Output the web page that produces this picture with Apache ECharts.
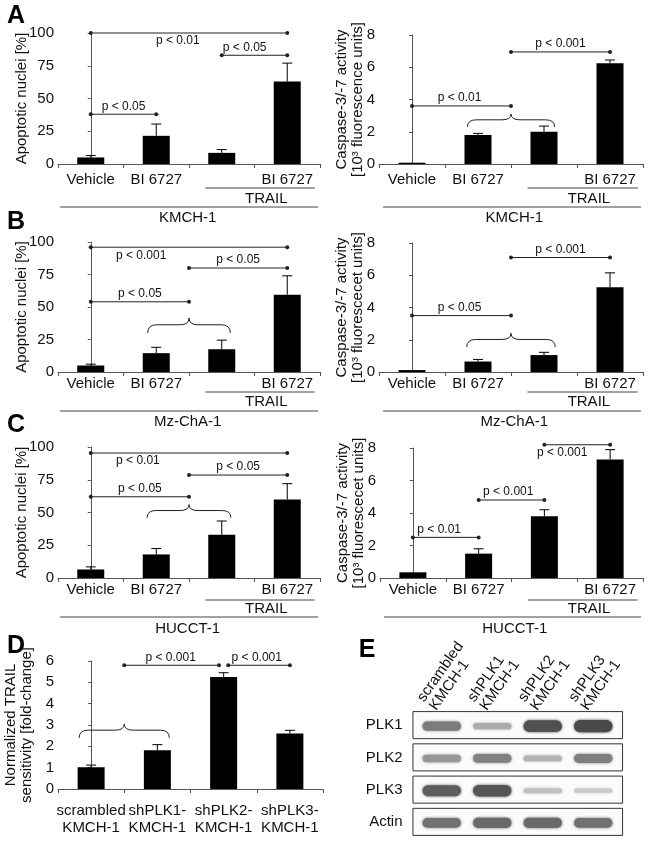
<!DOCTYPE html>
<html><head><meta charset="utf-8">
<script src="https://cdn.jsdelivr.net/npm/echarts@6/dist/echarts.min.js"></script>
<style>html,body{margin:0;padding:0;background:#fff}#c{width:649px;height:841px}</style>
</head><body><div id="c"></div>
<script>
const FONT = 'Liberation Sans, Arial, Helvetica, sans-serif';
const LINE = '#222';
const AXIS = '#555';
const TEXT = '#111';

// ---------------- DATA ----------------
const treatmentLabels = ['Vehicle', 'BI 6727', '', 'BI 6727'];
const shLabels = ['scrambled\nKMCH-1', 'shPLK1-\nKMCH-1', 'shPLK2-\nKMCH-1', 'shPLK3-\nKMCH-1'];
const cellLines = ['KMCH-1', 'Mz-ChA-1', 'HUCCT-1'];

// apoptotic nuclei [%] (mean, error)
const apoKMCH = [5, 21.5, 8.5, 63];
const apoKMCHErr = [1.5, 9, 2.5, 14];
const apoMzChA = [5, 14.5, 17.5, 59.5];
const apoMzChAErr = [1, 4.5, 7, 14.5];
const apoHUCCT = [6.5, 18, 33, 60];
const apoHUCCTErr = [2, 4.5, 10.5, 12];

// caspase-3/-7 activity [10^3 units]
const caspKMCH = [0.08, 1.8, 2.0, 6.25];
const caspKMCHErr = [0, 0.1, 0.35, 0.2];
const caspMzChA = [0.12, 0.65, 1.05, 5.25];
const caspMzChAErr = [0, 0.13, 0.17, 0.9];
const caspHUCCT = [0.35, 1.5, 3.8, 7.3];
const caspHUCCTErr = [0, 0.3, 0.4, 0.6];

// normalized TRAIL sensitivity
const foldChange = [1.02, 1.82, 5.25, 2.6];
const foldChangeErr = [0.1, 0.26, 0.2, 0.15];

// significance brackets: [from, to, y, label, labelX, side]
const sigApoKMCH = [[0, 3, 100, 'p < 0.01', 1.33, 'below'], [2, 3, 83, 'p < 0.05', 2.35, 'above'], [0, 1, 38, 'p < 0.05', 0.5, 'above']];
const sigCaspKMCH = [[0, 1.5, 3.6, 'p < 0.01', 0.72, 'above'], [1.5, 3, 6.95, 'p < 0.001', 2.25, 'above']];
const sigApoMzChA = [[0, 3, 96, 'p < 0.001', 0.77, 'below'], [1.5, 3, 80, 'p < 0.05', 2.25, 'above'], [0, 1.5, 54, 'p < 0.05', 0.75, 'above']];
const sigCaspMzChA = [[0, 1.5, 3.5, 'p < 0.05', 0.72, 'above'], [1.5, 3, 7.1, 'p < 0.001', 2.25, 'above']];
const sigApoHUCCT = [[0, 3, 95.4, 'p < 0.01', 0.72, 'below'], [1.5, 3, 78.6, 'p < 0.05', 2.25, 'above'], [0, 1.5, 62, 'p < 0.05', 0.75, 'above']];
const sigCaspHUCCT = [[0, 1, 2.5, 'p < 0.01', 0.4, 'above'], [1, 2, 4.8, 'p < 0.001', 1.45, 'above'], [2, 3, 8.2, 'p < 0.001', 2.27, 'below']];
const sigFold = [[0.5, 1.93, 5.8, 'p < 0.001', 1.2, 'above'], [2.07, 3, 5.8, 'p < 0.001', 2.5, 'above']];

// curly braces: [from, to, yBottom, yTip]
const braceCaspKMCH = [[0.84, 2.16, 2.3, 3.1]];
const braceApoMzChA = [[0.87, 2.13, 30, 41.5]];
const braceCaspMzChA = [[0.83, 2.17, 1.55, 2.4]];
const braceApoHUCCT = [[0.86, 2.14, 46, 56]];
const braceFold = [[-0.18, 1.18, 2.4, 3.05]];

// group labels under x axis: [from, to, labelX, label]
const trailGroup = [1.75, 3.42, 2.68, 'TRAIL'];
const cellGroupLeft = [-0.47, 3.47, 1.48];
const cellGroupRight = [-0.44, 3.47, 1.55];

// western blot (E)
const blotLanes = ['scrambled\nKMCH-1', 'shPLK1\nKMCH-1', 'shPLK2\nKMCH-1', 'shPLK3\nKMCH-1'];
const blotProteins = ['PLK1', 'PLK2', 'PLK3', 'Actin'];
const bandPLK1 = [0.62, 0.32, 0.88, 0.92];
const bandPLK2 = [0.45, 0.58, 0.28, 0.6];
const bandPLK3 = [0.8, 0.85, 0.2, 0.14];
const bandActin = [0.68, 0.72, 0.72, 0.68];

// ---------------- LAYOUT ----------------
const rowOffsets = {
  A: {label: 7, trailLine: 24, trailText: 35, cellLine: 43, cellText: 54},
  B: {label: 3, trailLine: 20, trailText: 30, cellLine: 39, cellText: 50},
  C: {label: 3, trailLine: 22, trailText: 31, cellLine: 39, cellText: 51}
};
const apoName = 'Apoptotic nuclei [%]';
const caspName1 = 'Caspase-3/-7 activity\n[10\u00B3 fluorescence units]';
const caspName2 = 'Caspase-3/-7 activity\n[10\u00B3 fluorescecet units]';

const panels = [
  {grid: {left: 58, top: 33, width: 262, height: 131}, values: apoKMCH, errors: apoKMCHErr, cats: treatmentLabels, yMax: 100, yInt: 25, yName: apoName, nameGap: 28, sig: sigApoKMCH, braces: [], row: 'A', cell: cellLines[0], cellGroup: cellGroupLeft},
  {grid: {left: 379, top: 35, width: 264, height: 129}, values: caspKMCH, errors: caspKMCHErr, cats: treatmentLabels, yMax: 8, yInt: 2, yName: caspName1, nameGap: 13, sig: sigCaspKMCH, braces: braceCaspKMCH, row: 'A', cell: cellLines[0], cellGroup: cellGroupRight},
  {grid: {left: 58, top: 242, width: 262, height: 130}, values: apoMzChA, errors: apoMzChAErr, cats: treatmentLabels, yMax: 100, yInt: 25, yName: apoName, nameGap: 28, sig: sigApoMzChA, braces: braceApoMzChA, row: 'B', cell: cellLines[1], cellGroup: cellGroupLeft},
  {grid: {left: 379, top: 243, width: 264, height: 129}, values: caspMzChA, errors: caspMzChAErr, cats: treatmentLabels, yMax: 8, yInt: 2, yName: caspName2, nameGap: 13, sig: sigCaspMzChA, braces: braceCaspMzChA, row: 'B', cell: cellLines[1], cellGroup: cellGroupRight},
  {grid: {left: 58, top: 447, width: 262, height: 131}, values: apoHUCCT, errors: apoHUCCTErr, cats: treatmentLabels, yMax: 100, yInt: 25, yName: apoName, nameGap: 28, sig: sigApoHUCCT, braces: braceApoHUCCT, row: 'C', cell: cellLines[2], cellGroup: cellGroupLeft},
  {grid: {left: 380, top: 448, width: 263, height: 130}, values: caspHUCCT, errors: caspHUCCTErr, cats: treatmentLabels, yMax: 8, yInt: 2, yName: caspName2, nameGap: 13, sig: sigCaspHUCCT, braces: [], row: 'C', cell: cellLines[2], cellGroup: cellGroupRight},
  {grid: {left: 58, top: 661, width: 265, height: 128}, values: foldChange, errors: foldChangeErr, cats: shLabels, yMax: 6, yInt: 1, yName: 'Normalized TRAIL\nsensitivity [fold-change]', nameGap: 23, sig: sigFold, braces: braceFold, row: 'D', cell: null, labelMargin: 13}
];

const grids = [], xAxes = [], yAxes = [], series = [];

function txt(text, x, y, size, align, vAlign, extra) {
  return Object.assign({type: 'text', x: x, y: y, style: {text: text, fill: TEXT, fontSize: size, fontFamily: FONT, align: align, verticalAlign: vAlign}}, extra || {});
}

panels.forEach((p, i) => {
  grids.push(Object.assign({containLabel: false}, p.grid));
  const off = rowOffsets[p.row];
  xAxes.push({
    gridIndex: i, type: 'category', data: p.cats,
    axisLine: {lineStyle: {color: AXIS, width: 1}},
    axisTick: {show: true, length: 4, lineStyle: {color: AXIS}},
    axisLabel: {interval: 0, fontSize: 15, color: TEXT, fontFamily: FONT, margin: off ? off.label : p.labelMargin, lineHeight: 17}
  });
  xAxes.push({gridIndex: i, type: 'value', min: -0.5, max: 3.5, show: false});
  yAxes.push({
    gridIndex: i, type: 'value', min: 0, max: p.yMax, interval: p.yInt,
    axisLine: {show: true, lineStyle: {color: AXIS, width: 1}},
    axisTick: {show: true, length: 3, lineStyle: {color: AXIS}},
    splitLine: {show: false},
    axisLabel: {fontSize: 15, color: TEXT, fontFamily: FONT, margin: 4},
    name: p.yName, nameLocation: 'middle', nameGap: p.nameGap, nameMoveOverlap: false,
    nameTextStyle: {fontSize: 15, color: TEXT, fontFamily: FONT, lineHeight: 16}
  });
  series.push({
    type: 'bar', xAxisIndex: 2 * i, yAxisIndex: i, data: p.values, barWidth: 27,
    itemStyle: {color: '#000'}, silent: true
  });
  series.push({
    type: 'custom', xAxisIndex: 2 * i, yAxisIndex: i,
    data: p.values.map((v, k) => [k, v, v + p.errors[k]]),
    encode: {x: 0, y: [1, 2]},
    renderItem: (params, api) => {
      const v = api.value(1), u = api.value(2);
      if (!(u > v)) return null;
      const a = api.coord([api.value(0), v]), b = api.coord([api.value(0), u]);
      return {type: 'group', children: [
        {type: 'line', shape: {x1: a[0], y1: a[1], x2: b[0], y2: b[1]}, style: {stroke: '#000', lineWidth: 1}},
        {type: 'line', shape: {x1: b[0] - 5, y1: b[1], x2: b[0] + 5, y2: b[1]}, style: {stroke: '#000', lineWidth: 1}}
      ]};
    }
  });
  // annotations
  const items = [];
  p.sig.forEach(s => items.push({kind: 'sig', from: s[0], to: s[1], y: s[2], label: s[3], lx: s[4], side: s[5]}));
  p.braces.forEach(b => items.push({kind: 'brace', from: b[0], to: b[1], yb: b[2], yt: b[3]}));
  if (p.cell) {
    items.push({kind: 'group', from: trailGroup[0], to: trailGroup[1], lx: trailGroup[2], label: trailGroup[3], lineOff: off.trailLine, textOff: off.trailText});
    items.push({kind: 'group', from: p.cellGroup[0], to: p.cellGroup[1], lx: p.cellGroup[2], label: p.cell, lineOff: off.cellLine, textOff: off.cellText});
  }
  series.push({
    type: 'custom', xAxisIndex: 2 * i + 1, yAxisIndex: i, clip: false, silent: true,
    data: items.map(() => [0, 0]),
    renderItem: (params, api) => {
      const it = items[params.dataIndex];
      if (it.kind === 'sig') {
        const a = api.coord([it.from, it.y]), b = api.coord([it.to, it.y]), t = api.coord([it.lx, it.y]);
        const below = it.side === 'below';
        return {type: 'group', children: [
          {type: 'line', shape: {x1: a[0], y1: a[1], x2: b[0], y2: b[1]}, style: {stroke: LINE, lineWidth: 1}},
          {type: 'circle', shape: {cx: a[0], cy: a[1], r: 2}, style: {fill: LINE}},
          {type: 'circle', shape: {cx: b[0], cy: b[1], r: 2}, style: {fill: LINE}},
          txt(it.label, t[0], below ? t[1] + 2 : t[1] - 2, 12, 'center', below ? 'top' : 'bottom')
        ]};
      }
      if (it.kind === 'brace') {
        const l = api.coord([it.from, it.yb]), r = api.coord([it.to, it.yb]), tip = api.coord([(it.from + it.to) / 2, it.yt]);
        const yB = l[1], yT = tip[1], yM = yB - (yB - yT) * 0.55, xc = tip[0], rr = 9;
        const st = {stroke: LINE, lineWidth: 1, fill: 'none'};
        return {type: 'group', children: [
          {type: 'bezierCurve', shape: {x1: l[0], y1: yB, cpx1: l[0], cpy1: yM, x2: l[0] + rr, y2: yM}, style: st},
          {type: 'line', shape: {x1: l[0] + rr, y1: yM, x2: xc - rr, y2: yM}, style: st},
          {type: 'bezierCurve', shape: {x1: xc - rr, y1: yM, cpx1: xc, cpy1: yM, x2: xc, y2: yT}, style: st},
          {type: 'bezierCurve', shape: {x1: xc, y1: yT, cpx1: xc, cpy1: yM, x2: xc + rr, y2: yM}, style: st},
          {type: 'line', shape: {x1: xc + rr, y1: yM, x2: r[0] - rr, y2: yM}, style: st},
          {type: 'bezierCurve', shape: {x1: r[0] - rr, y1: yM, cpx1: r[0], cpy1: yM, x2: r[0], y2: yB}, style: st}
        ]};
      }
      if (it.kind === 'group') {
        const a = api.coord([it.from, 0]), b = api.coord([it.to, 0]), t = api.coord([it.lx, 0]);
        const y = a[1] + it.lineOff;
        return {type: 'group', children: [
          {type: 'line', shape: {x1: a[0], y1: y, x2: b[0], y2: y}, style: {stroke: '#444', lineWidth: 1}},
          txt(it.label, t[0], a[1] + it.textOff, 15, 'center', 'middle')
        ]};
      }
      return null;
    }
  });
});

// ---------------- BLOT (E) ----------------
const blotGrid = grids.length;
grids.push({left: 416.5, top: 709, width: 202, height: 129, containLabel: false});
xAxes.push({gridIndex: blotGrid, type: 'value', min: -0.5, max: 3.5, show: false});
yAxes.push({
  gridIndex: blotGrid, type: 'category', data: blotProteins, inverse: true,
  axisLine: {show: false}, axisTick: {show: false}, splitLine: {show: false},
  axisLabel: {fontSize: 15, color: TEXT, fontFamily: FONT, margin: 14}
});
const bandRows = [bandPLK1, bandPLK2, bandPLK3, bandActin];
const blotItems = [];
blotProteins.forEach((_, r) => blotItems.push({kind: 'frame', row: r}));
bandRows.forEach((row, r) => row.forEach((v, lane) => blotItems.push({kind: 'band', row: r, lane: lane, v: v})));
blotLanes.forEach((name, lane) => blotItems.push({kind: 'lane', lane: lane, label: name}));
series.push({
  type: 'custom', xAxisIndex: xAxes.length - 1, yAxisIndex: yAxes.length - 1, clip: false, silent: true,
  data: blotItems.map(() => [0, 0]),
  renderItem: (params, api) => {
    const it = blotItems[params.dataIndex];
    const band = api.size([0, 1])[1];
    if (it.kind === 'frame') {
      const a = api.coord([-0.57, it.row]), b = api.coord([3.58, it.row]);
      const h = band * 0.84;
      return {type: 'rect', shape: {x: a[0], y: a[1] - h / 2, width: b[0] - a[0], height: h},
        style: {fill: '#fbfbfb', stroke: '#333', lineWidth: 1}};
    }
    if (it.kind === 'band') {
      const c = api.coord([it.lane, it.row]);
      const w = api.size([0.76, 0])[0];
      const h = 3 + 10 * it.v;
      const g = Math.round(225 - 165 * it.v);
      const col = 'rgb(' + g + ',' + g + ',' + g + ')';
      return {type: 'rect', shape: {x: c[0] - w / 2, y: c[1] - h / 2 + 1, width: w, height: h, r: h / 2},
        style: {fill: col, shadowBlur: 3, shadowColor: col}};
    }
    if (it.kind === 'lane') {
      const c = api.coord([it.lane, 0]);
      const top = c[1] - band * 0.42;
      return txt(it.label, c[0] - 15, top - 7, 15, 'left', 'middle', {rotation: 55 * Math.PI / 180});
    }
    return null;
  }
});

const letters = [['A', 16, 16], ['B', 16, 222], ['C', 16, 425], ['D', 16, 646], ['E', 367, 650]];

const chart = echarts.init(document.getElementById('c'), null, {renderer: 'canvas'});
chart.setOption({
  animation: false,
  backgroundColor: '#fff',
  grid: grids, xAxis: xAxes, yAxis: yAxes, series: series,
  graphic: letters.map(l => ({type: 'text', x: l[1], y: l[2], style: {text: l[0], fill: '#000', fontSize: 25, fontWeight: 'bold', fontFamily: FONT, align: 'center', verticalAlign: 'middle'}}))
});
</script></body></html>
